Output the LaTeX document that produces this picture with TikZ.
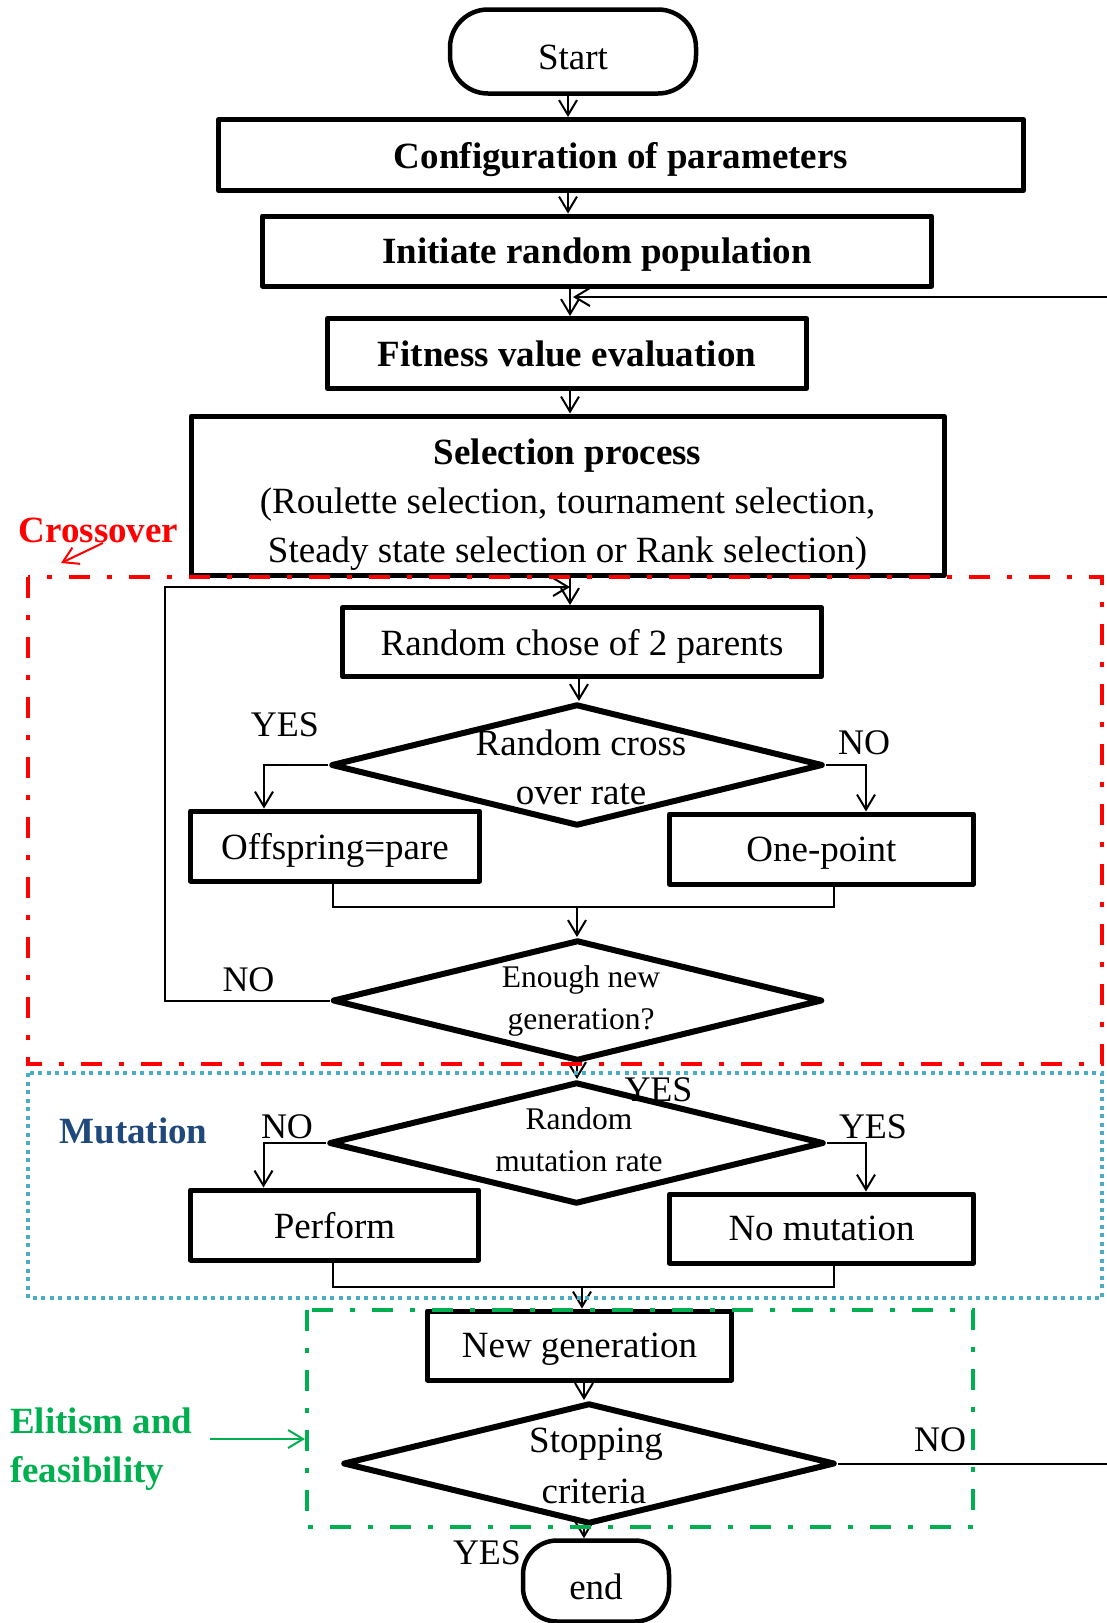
\documentclass[tikz,border=0pt]{standalone}
\usepackage{fontspec}
\setmainfont{Liberation Serif}
\usetikzlibrary{arrows.meta,shapes.geometric}
\definecolor{xred}{RGB}{255,0,0}
\definecolor{xblue}{RGB}{75,172,198}
\definecolor{xgreen}{RGB}{0,176,80}
\definecolor{xnavy}{RGB}{31,73,125}
\newcommand{\fbig}{\fontsize{37}{48.75}\selectfont}
\newcommand{\fsmall}{\fontsize{31.5}{40}\selectfont}
\begin{document}
\begin{tikzpicture}[x=1pt,y=-1pt,
  every node/.style={inner sep=0pt,font=\fbig},
  box/.style={draw,line width=5pt,line join=round,text depth=0pt},
  bbox/.style={box,font=\fbig\bfseries},
  dia/.style={draw,diamond,line width=6pt,line join=round},
  term/.style={draw,line width=4.5pt,rounded corners=38pt},
  conn/.style={line width=2pt,-{Straight Barb[length=15pt,width=18pt]}},
  link/.style={line width=2pt},
  lbl/.style={font=\fontsize{36}{44}\selectfont},
  dtxt/.style={font=\fbig},
  stxt/.style={font=\fsmall},
  dashdot/.style={line width=4.5pt,dash pattern=on 21pt off 17pt on 5pt off 17pt},
  dotline/.style={line width=4pt,dash pattern=on 4pt off 4.5pt},
]
\useasboundingbox (0,0) rectangle (1107,1623);
\fill[white] (0,0) rectangle (1107,1623);
\clip (0,0) rectangle (1107,1623);

% axes for vertical connectors
\coordinate (ax1) at (568,0);
\coordinate (ax2) at (570,0);
\coordinate (ax3) at (579,0);
\coordinate (ax4) at (577,0);
\coordinate (ax5) at (582,0);
\coordinate (ax6) at (584,0);

% boxes
\node[term,minimum width=246pt,minimum height=84pt,text height=36pt,text depth=0pt] (start) at (573,51.5) {Start};
\node[bbox,minimum width=805pt,minimum height=71pt] (config) at (621,155) {Configuration of parameters};
\node[bbox,minimum width=669pt,minimum height=70pt] (init) at (597,251) {Initiate random population};
\node[bbox,minimum width=479pt,minimum height=70pt] (fit) at (567,353.5) {Fitness value evaluation};
\node[box,minimum width=753pt,minimum height=159pt] (sel) at (567.5,495.5) {};
\node[align=center] (seltext) at (567.5,504.5) {\textbf{Selection process}\\(Roulette selection, tournament selection,\\Steady state selection or Rank selection)};
\node[box,minimum width=479pt,minimum height=69pt] (rc) at (582,642) {Random chose of 2 parents};
\node[dia,minimum width=492pt,minimum height=122pt] (d1) at (577,765) {};
\node[box,minimum width=289pt,minimum height=70pt] (off) at (335,846) {Offspring=pare};
\node[box,minimum width=304pt,minimum height=70pt] (one) at (821.5,849) {One-point};
\node[dia,minimum width=490pt,minimum height=121pt] (en) at (577.5,1000.5) {};
\node[dia,minimum width=495pt,minimum height=122pt] (mu) at (576.5,1143) {};
\node[box,minimum width=288pt,minimum height=70pt] (perf) at (334.5,1225) {Perform};
\node[box,minimum width=304pt,minimum height=69pt] (nom) at (821.5,1228.5) {No mutation};
\node[box,minimum width=304pt,minimum height=69pt] (ng) at (579.5,1345.5) {New generation};
\node[dia,minimum width=492pt,minimum height=121pt] (st) at (589,1463.5) {};
\node[term,rounded corners=34pt,minimum width=146pt,minimum height=81pt,text height=37pt,text depth=0pt] (end) at (596,1581) {end};

% diamond texts
\node[dtxt] (d1a) at (581,742.5) {Random cross};
\node[dtxt] (d1b) at (581,794) {over rate};
\node[stxt] (ena) at (581,979.5) {Enough new};
\node[stxt] (enb) at (581,1022.5) {generation?};
\node[stxt] (mua) at (579,1118.5) {Random};
\node[stxt] (mub) at (579,1161) {mutation rate};
\node[dtxt] (sta) at (596,1444.5) {Stopping};
\node[dtxt] (stb) at (594,1491.5) {criteria};

% YES / NO labels
\node[lbl] (yes1) at (285,725) {YES};
\node[lbl] (no1) at (864,742.5) {NO};
\node[lbl] (no2) at (248.5,980) {NO};
\node[lbl] (yes2) at (658.5,1090) {YES};
\node[lbl] (no3) at (287,1127) {NO};
\node[lbl] (yes3) at (873,1127) {YES};
\node[lbl] (no4) at (940,1440) {NO};
\node[lbl] (yes4) at (487,1553) {YES};

% connectors
\draw[conn] (ax1 |- start.south) -- (ax1 |- config.north);
\draw[conn] (ax1 |- config.south) -- (ax1 |- init.north);
\draw[conn] (ax2 |- init.south) -- (ax2 |- fit.north);
\draw[conn] (ax2 |- fit.south) -- (ax2 |- sel.north);
\draw[conn] (ax2 |- sel.south) -- (ax2 |- rc.north);
\draw[conn] (ax3 |- rc.south) -- (ax3 |- d1.north);
\draw[conn] (d1.west) -| ([xshift=-71pt]off.north);
\draw[conn] (d1.east) -| ([xshift=44.5pt]one.north);
\coordinate (m1) at (577,907);
\draw[link] ([xshift=-2pt]off.south) |- (m1) -| ([xshift=12.5pt]one.south);
\draw[conn] (m1) -- (ax4 |- en.north);
\coordinate (lp) at (165,587);
\draw[conn] (en.west) -| (lp) -- (ax2 |- lp);
\draw[conn] (ax4 |- en.south) -- (ax4 |- mu.north);
\draw[conn] (mu.west) -| ([xshift=-71pt]perf.north);
\draw[conn] (mu.east) -| ([xshift=44.5pt]nom.north);
\coordinate (m2) at (582,1287);
\draw[link] ([xshift=-1.5pt]perf.south) |- (m2) -| ([xshift=12.5pt]nom.south);
\draw[conn] (m2) -- (ax5 |- ng.north);
\draw[conn] (ax6 |- ng.south) -- (ax6 |- st.north);
\draw[conn] (ax6 |- st.south) -- (ax6 |- end.north);
\coordinate (rt) at (1130,297);
\coordinate (rtip) at (573,297);
\draw[conn] (st.east) -| (rt) -- (rtip);

% group frames
\draw[xred,dashdot] (28,577) rectangle (1102,1064);
\draw[xblue,dotline] (28,1073) rectangle (1102,1298);
\draw[xgreen,dashdot] (307,1310) rectangle (973,1527);

% group labels
\node[font=\fbig\bfseries,text=xred] (lcross) at (98.5,530) {Crossover};
\coordinate (ca1) at (103,543);
\coordinate (ca2) at (61,563);
\draw[xred,conn] (ca1) -- (ca2);
\node[font=\fbig\bfseries,text=xnavy] (lmut) at (133.5,1131) {Mutation};
\node[font=\fbig\bfseries,text=xgreen,anchor=west] (lel1) at (10,1421) {Elitism and};
\node[font=\fbig\bfseries,text=xgreen,anchor=west] (lel2) at (10,1473) {feasibility};
\coordinate (ga) at (210,1439);
\coordinate (gb) at (305,1439);
\draw[xgreen,conn] (ga) -- (gb);
\end{tikzpicture}
\end{document}
